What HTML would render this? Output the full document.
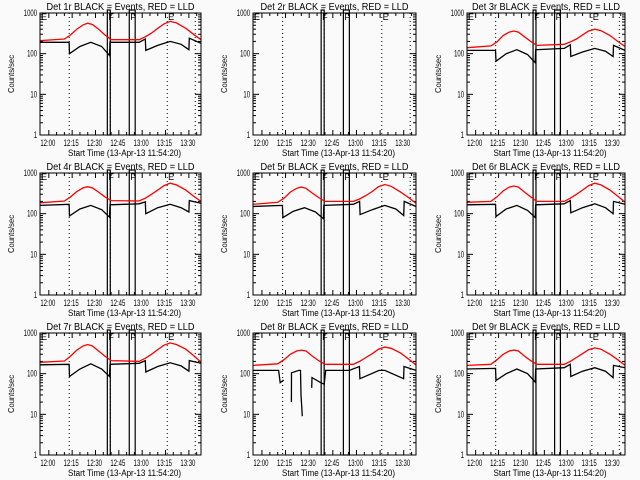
<!DOCTYPE html>
<html><head><meta charset="utf-8"><style>
html,body{margin:0;padding:0;background:#fafafa;}
svg{display:block;font-family:"Liberation Sans",sans-serif;}
</style></head><body>
<svg id="c" width="640" height="480" viewBox="0 0 640 480"></svg>
<script>
const tickTimes = [0,15,30,45,60,75,90];
const tickLabels = ["12:00","12:15","12:30","12:45","13:00","13:15","13:30"];
const yTicks = [1,10,100,1000];
const yTickLabels = ["1","10","100","1000"];
const dottedTimes = [13.1,39.5,76.1,94.1];
const boxTimes = [[37.6,39.5],[51.7,55.5]];
const blackT = [-5.67,13,13.3,20,27,34,39,39.3,58,62,62.3,70,78,85,90,90.3,97.8];
const redT = [-5.67,10,14,18,22,25,28,32,36,40,58,62,66,70,74,78,82,88,93,97.8];
const black1 = [190,190,100,150,190,150,90,190,190,230,120,160,200,170,125,240,180];
const black3 = [120,120,65,100,125,95,60,125,135,165,85,110,135,115,85,160,120];
const black4 = [160,170,88,130,160,125,82,165,175,195,100,140,170,140,110,210,180];
const black5 = [150,160,80,115,140,110,75,160,170,200,95,125,160,130,90,200,150];
const black6 = [165,170,85,130,160,120,80,165,175,210,105,140,175,140,100,200,170];
const black7 = [165,170,85,130,175,130,85,170,180,210,110,150,185,155,115,210,180];
const black9 = [130,135,68,100,130,100,62,130,140,170,85,115,140,115,80,160,140];
const black8T = [-5.67,10.6,11.6,13.8,null,18.7,18.8,23.4,24.5,24.8,25.6,null,31.6,31.8,37.4,39.5,40.5,55.5,61.9,62.2,74.4,78,89.9,90.2,97.8];
const black8 = [120,120,60,70,null,20,105,120,120,30,9,null,45,80,60,55,120,120,150,75,120,120,75,150,120];
const red1 = [210,230,290,400,510,560,520,400,290,220,220,260,320,420,540,620,570,420,300,220];
const red3 = [140,155,195,280,340,360,340,260,200,160,170,195,230,290,360,400,370,280,200,150];
const red4 = [185,205,260,350,430,460,430,340,260,210,205,240,300,380,490,560,510,380,270,200];
const red5 = [170,190,240,340,420,450,420,320,250,200,200,230,280,350,460,520,470,340,250,180];
const red6 = [190,200,260,360,450,480,450,340,260,200,200,240,300,380,490,560,510,380,270,190];
const red7 = [190,205,270,380,480,520,480,360,270,210,200,240,300,390,500,570,520,400,280,190];
const red8 = [160,175,220,300,360,380,360,270,210,170,170,200,250,310,400,450,420,320,230,165];
const red9 = [160,170,220,300,360,380,360,270,210,170,170,200,250,310,390,430,400,300,220,160];

const panels = [
 {n:"1r",bt:blackT,b:black1,r:red1},{n:"2r",bt:null,b:null,r:null},{n:"3r",bt:blackT,b:black3,r:red3},
 {n:"4r",bt:blackT,b:black4,r:red4},{n:"5r",bt:blackT,b:black5,r:red5},{n:"6r",bt:blackT,b:black6,r:red6},
 {n:"7r",bt:blackT,b:black7,r:red7},{n:"8r",bt:black8T,b:black8,r:red8},{n:"9r",bt:blackT,b:black9,r:red9}];
const colL=[40,253,467], colR=[201,416,625], rowT=[13,173,333], rowB=[135,295,455];
const T0=-5.67, T1=97.8;
const NS="http://www.w3.org/2000/svg";
const svg=document.getElementById('c');
function mk(tag,attrs,parent){const e=document.createElementNS(NS,tag);for(const k in attrs)e.setAttribute(k,attrs[k]);(parent||svg).appendChild(e);return e;}

panels.forEach((p,i)=>{
 const L=colL[i%3],R=colR[i%3],T=rowT[Math.floor(i/3)],B=rowB[Math.floor(i/3)];
 const xs=t=>L+(t-T0)/(T1-T0)*(R-L);
 const ys=v=>T+(3-Math.log10(v))/3*(B-T);
 const g=mk('g',{});
 
 
 const title=mk('text',{x:(L+R)/2,y:T-3,'text-anchor':'middle','font-size':10,textLength:148,lengthAdjust:'spacingAndGlyphs',fill:'#000'},g);
 title.textContent='Det '+p.n+' BLACK = Events, RED = LLD';
 
 
 for(let d=0;d<3;d++){for(let m=2;m<=9;m++){const y=ys(m*Math.pow(10,d));
  mk('line',{x1:L,x2:L+3,y1:y,y2:y,stroke:'#000','stroke-width':1},g);
  mk('line',{x1:R,x2:R-3,y1:y,y2:y,stroke:'#000','stroke-width':1},g);}}
 yTicks.forEach((v,k)=>{const y=ys(v);
  mk('line',{x1:L,x2:L+6,y1:y,y2:y,stroke:'#000'},g);mk('line',{x1:R,x2:R-6,y1:y,y2:y,stroke:'#000'},g);
  const lab=yTickLabels[k];
  const t=mk('text',{x:L-3,y:y+3,'text-anchor':'end','font-size':9,textLength:lab.length*3.3,lengthAdjust:'spacingAndGlyphs'},g);t.textContent=lab;
  
  });
 for(let t=0;t<=95;t+=5){const x=xs(t);const maj=t%15===0;
  mk('line',{x1:x,x2:x,y1:B,y2:B-(maj?5:3),stroke:'#000'},g);mk('line',{x1:x,x2:x,y1:T,y2:T+(maj?5:3),stroke:'#000'},g);}
 tickTimes.forEach((t,k)=>{const tx=mk('text',{x:xs(t)-1,y:B+11,'text-anchor':'middle','font-size':9,textLength:15,lengthAdjust:'spacingAndGlyphs'},g);tx.textContent=tickLabels[k];
  
  });
 const xt=mk('text',{x:(L+R)/2+4,y:B+21,'text-anchor':'middle','font-size':9.5,textLength:113,lengthAdjust:'spacingAndGlyphs'},g);xt.textContent='Start Time (13-Apr-13 11:54:20)';
 
 
 const yt=mk('text',{x:0,y:0,'text-anchor':'middle','font-size':8,textLength:38,lengthAdjust:'spacingAndGlyphs',transform:`translate(${L-26},${(T+B)/2}) rotate(-90)`},g);yt.textContent='Counts/sec';
 
 
 dottedTimes.forEach(t=>{const l=mk('line',{x1:xs(t),x2:xs(t),y1:T,y2:B,stroke:'#000','stroke-dasharray':'1,3'},g);
  
  });
 boxTimes.forEach(bt=>{const r=mk('rect',{x:xs(bt[0]),y:T-3,width:xs(bt[1])-xs(bt[0]),height:B-T+3,fill:'none',stroke:'#000','stroke-width':1.2},g);
  
  });
 [["E",T0],["F",37.6],["F",51.7],["E",76]].forEach(f=>{const t=mk('text',{x:xs(f[1])+1,y:T+7,'font-size':9},g);t.textContent=f[0];
  
  });
 function path(tt,vv){let d='',pen=false;for(let k=0;k<tt.length;k++){if(tt[k]===null||vv[k]===null){pen=false;continue;}
  d+=(pen?'L':'M')+xs(tt[k]).toFixed(1)+','+ys(vv[k]).toFixed(1);pen=true;}return d;}
 if(p.r){const pr=mk('path',{d:path(redT,p.r),fill:'none',stroke:'#ff0000','stroke-width':1.3},g);
  
  }
 if(p.b){const pb=mk('path',{d:path(p.bt,p.b),fill:'none',stroke:'#000','stroke-width':1.3},g);
  
  }
 const fr=mk('rect',{x:L,y:T,width:R-L,height:B-T,fill:'none',stroke:'#000','stroke-width':1},g);
 
 
});
</script>
</body></html>
